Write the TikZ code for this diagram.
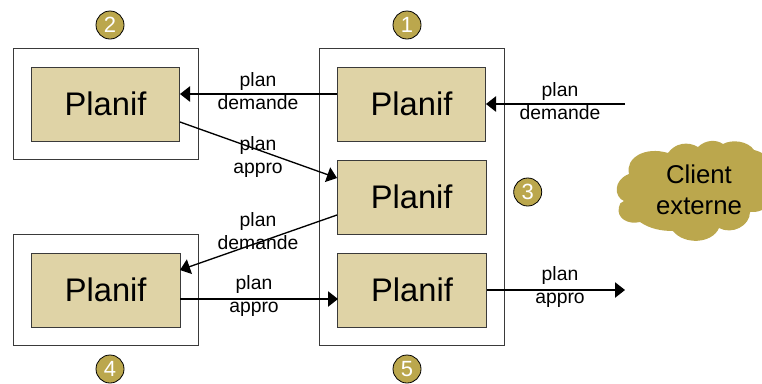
\documentclass[tikz,border=0pt]{standalone}
\usepackage{fontspec}
\setmainfont{Liberation Sans}
\usetikzlibrary{arrows.meta}
\definecolor{gold}{HTML}{BBA74D}
\definecolor{sand}{HTML}{DFD3A6}
\definecolor{edge}{HTML}{3A3A3A}
\tikzset{
  outerbox/.style={draw=edge,line width=0.7pt,fill=white,minimum width=139pt,anchor=north west,inner sep=0pt},
  planbox/.style={draw=edge,line width=0.7pt,fill=sand,minimum width=111.5pt,minimum height=55.5pt,inner sep=0pt,font=\fontsize{24.5}{28}\selectfont},
  badge/.style={circle,draw=black,line width=0.6pt,fill=gold,text=white,minimum size=21pt,inner sep=0pt,font=\fontsize{16.5}{18}\selectfont},
  lbl/.style={align=center,inner sep=0pt,font=\fontsize{14.5}{17.6}\selectfont},
  conn/.style={line width=1pt,-{Triangle[length=7.5pt,width=11.5pt]}}
}
\begin{document}
\begin{tikzpicture}[x=0.75pt,y=-0.75pt]
\useasboundingbox (0,0) rectangle (762,383);
\node[outerbox,minimum height=83pt] (o2) at (12.5,48) {};
\node[outerbox,minimum height=83.5pt] (o4) at (12.5,234) {};
\node[outerbox,minimum height=223pt] (o1) at (319,48) {};
\node[planbox] (p2) at (105.5,104) {Planif};
\node[planbox] (p1) at (411.5,104) {Planif};
\node[planbox] (p3) at (411.7,197) {Planif};
\node[planbox] (p4) at (105.7,290) {Planif};
\node[planbox] (p5) at (412,290) {Planif};
\node[badge] (b2) at (110,25) {2};
\node[badge] (b1) at (407,25) {1};
\node[badge] (b3) at (527.7,192) {3};
\node[badge] (b4) at (110,369) {4};
\node[badge] (b5) at (407,369) {5};
\fill[gold] (629,174)
  .. controls (625,158) and (645,146) .. (668,153)
  .. controls (675,143) and (688,141) .. (698,147)
  .. controls (705,140) and (716,139) .. (723,144)
  .. controls (732,139) and (748,141) .. (754,150)
  .. controls (758,151) and (760,152) .. (762,153)
  -- (762,210)
  .. controls (758,212) and (754,212) .. (750,212)
  .. controls (750,226) and (732,235) .. (719,228)
  .. controls (712,244) and (684,245) .. (673,231)
  .. controls (662,231) and (650,229) .. (640,222)
  .. controls (628,225) and (616,218) .. (619,207)
  .. controls (619,204) and (621,202) .. (624,201)
  .. controls (614,197) and (613,180) .. (629,174) -- cycle;
\node[inner sep=0pt,align=center,font=\fontsize{19.3}{23.5}\selectfont] (cl) at (699,190) {Client\\externe};
\coordinate (in) at (625,104);
\coordinate (out) at (625,290);
\draw[conn] (337,94) -- (180,94);
\draw[conn] (180,122) -- (337,178);
\draw[conn] (337,215) -- (180,270);
\draw[conn] (180,299) -- (338,299);
\draw[conn] (in) -- (486,104);
\draw[conn] (486.5,290) -- (out);
\node[lbl] (l1) at (258,91) {plan\\demande};
\node[lbl] (l2) at (258,157) {plan\\appro};
\node[lbl] (l3) at (258,231) {plan\\demande};
\node[lbl] (l4) at (254,296) {plan\\appro};
\node[lbl] (l5) at (560,101) {plan\\demande};
\node[lbl] (l6) at (560,287) {plan\\appro};
\end{tikzpicture}
\end{document}
